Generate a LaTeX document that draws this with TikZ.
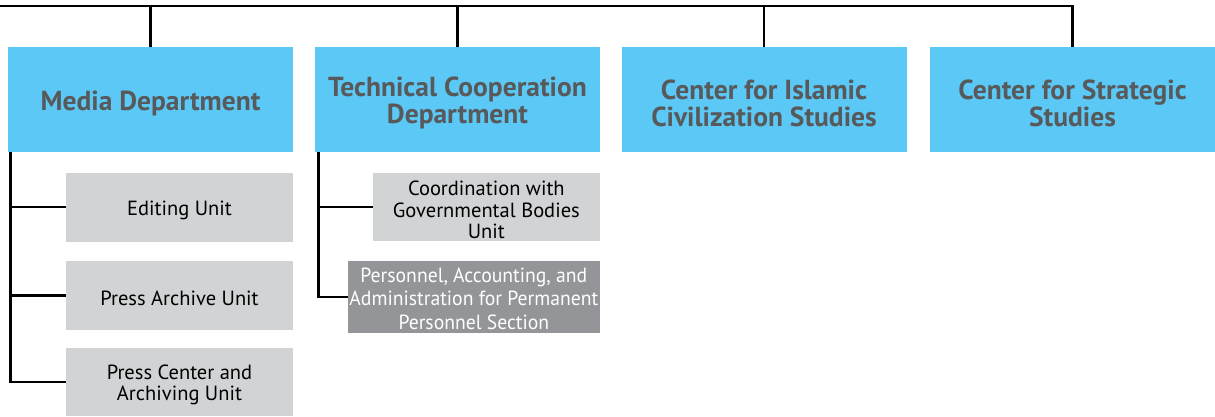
\documentclass[tikz,border=0pt]{standalone}
\usepackage{fontspec}
\setmainfont{PT Sans}
\newfontfamily\condfont[FakeStretch=0.96]{PT Sans}
\definecolor{deptblue}{HTML}{5BC8F5}
\definecolor{depttext}{HTML}{58595B}
\definecolor{unitgray}{HTML}{D1D3D4}
\definecolor{secgray}{HTML}{939598}
\begin{document}
\begin{tikzpicture}[x=1pt,y=-1pt,
  dept/.style={fill=deptblue,draw=none,minimum width=285pt,minimum height=105pt,inner sep=0pt},
  depttxt/.style={align=center,text=depttext,font=\fontsize{27.5}{27}\selectfont\bfseries,inner sep=0pt,yshift=-3.5pt},
  unit/.style={fill=unitgray,draw=none,minimum width=227pt,minimum height=68.5pt,inner sep=0pt},
  unittxt/.style={align=center,text=black,font=\fontsize{20.5}{21.5}\selectfont,inner sep=0pt,yshift=-3pt},
  sect/.style={fill=secgray,draw=none,minimum width=252pt,minimum height=72pt,inner sep=0pt},
  secttxt/.style={align=center,text=white,font=\condfont\fontsize{20.5}{23.8}\selectfont,inner sep=0pt,yshift=-1.5pt},
  conn/.style={line width=2.4pt,draw=black}]
\useasboundingbox (0,0) rectangle (1215,416);
\node[dept] (media) at (150.5,99.75) {};
\node[dept] (tech) at (457.5,99.75) {};
\node[dept] (islam) at (764,99.75) {};
\node[dept] (strat) at (1072.5,99.75) {};
\node[depttxt] (mediat) at (media.center) {Media Department};
\node[depttxt] (techt) at (tech.center) {Technical Cooperation\\Department};
\node[depttxt] (islamt) at (islam.center) {Center for Islamic\\Civilization Studies};
\node[depttxt] (stratt) at (strat.center) {Center for Strategic\\Studies};
\node[unit] (edit) at (179.5,207.25) {};
\node[unit] (arch) at (179.5,295.3) {};
\node[unit] (pcen) at (179.5,382) {};
\node[unit] (coord) at (486.35,207.2) {};
\node[sect] (pers) at (473.85,297.2) {};
\node[unittxt] (editt) at (edit.center) {Editing Unit};
\node[unittxt] (archt) at (arch.center) {Press Archive Unit};
\node[unittxt] (pcent) at (pcen.center) {Press Center and\\Archiving Unit};
\node[unittxt] (coordt) at (coord.center) {Coordination with\\Governmental Bodies\\Unit};
\node[secttxt] (perst) at (pers.center) {Personnel, Accounting, and\\Administration for Permanent\\Personnel Section};
\coordinate (tl) at (0,6);
\draw[conn] (tl) -| (strat.north);
\draw[conn] (media.north) -- (media.north |- tl);
\draw[conn] (tech.north) -- (tech.north |- tl);
\draw[conn] (islam.north) -- (islam.north |- tl);
\coordinate (mb) at (10.5,152.25);
\draw[conn] (mb) |- (pcen.west);
\draw[conn] (mb |- edit.west) -- (edit.west);
\draw[conn] (mb |- arch.west) -- (arch.west);
\coordinate (tb) at (318.5,152.25);
\draw[conn] (tb) |- (pers.west);
\draw[conn] (tb |- coord.west) -- (coord.west);
\end{tikzpicture}
\end{document}
